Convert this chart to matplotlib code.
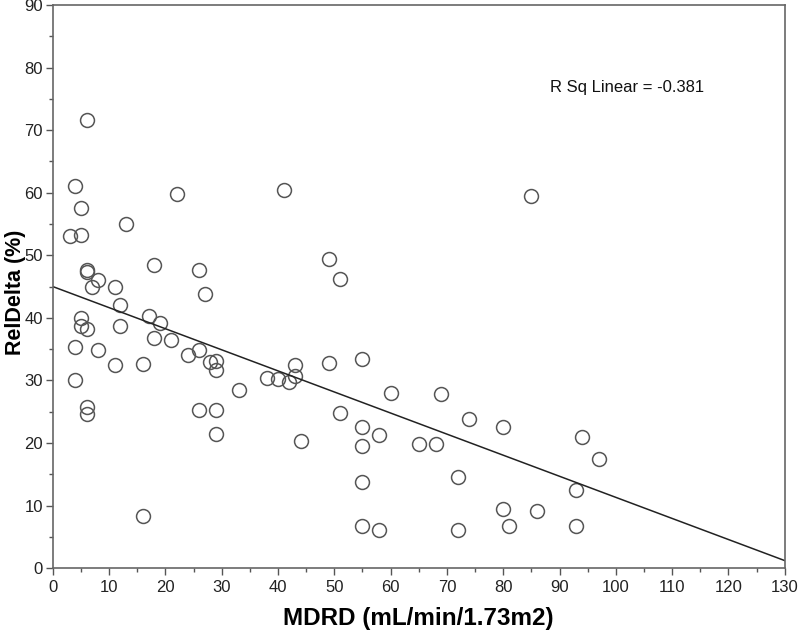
import matplotlib.pyplot as plt
import numpy as np

plt.rcParams['font.family'] = ['Liberation Sans', 'DejaVu Sans']

# MDRD (x) and RelDelta (y)
mdrd = [6, 4, 22, 41, 5, 13, 3, 5, 6, 6, 18, 26, 8, 7, 11, 27, 12, 5, 17, 19,
        5, 6, 12, 4, 8, 18, 21, 24, 26, 11, 16, 28, 29, 29, 4, 38, 40, 42, 43, 43,
        33, 6, 6, 26, 29, 29, 44, 16, 85, 49, 51, 49, 55, 60, 69, 51, 74, 80, 55, 58,
        55, 65, 68, 72, 55, 80, 86, 55, 58, 72, 81, 94, 97, 93, 93]
rel_delta = [71.7, 61.0, 59.8, 60.5, 57.5, 55.0, 53.1, 53.3, 47.6, 47.3, 48.5, 47.6, 46.0, 45.0, 45.0,
             43.8, 42.1, 40.0, 40.3, 39.2, 38.7, 38.2, 38.7, 35.3, 34.8, 36.7, 36.4, 34.1, 34.9, 32.4,
             32.7, 32.9, 33.1, 31.7, 30.0, 30.4, 30.2, 29.8, 32.4, 30.7, 28.5, 25.7, 24.6, 25.2, 25.2,
             21.5, 20.3, 8.4, 59.4, 49.4, 46.2, 32.8, 33.5, 28.0, 27.8, 24.8, 23.8, 22.5, 22.6, 21.2,
             19.5, 19.9, 19.9, 14.6, 13.8, 9.4, 9.2, 6.7, 6.1, 6.1, 6.7, 20.9, 17.4, 12.5, 6.7]

# fit line as drawn in the reference
fit_intercept = 45.0
fit_slope = -0.337
fit_x = [0, 130]
r_sq_label = 'R Sq Linear = -0.381'

fig = plt.figure(figsize=(8, 6.34), dpi=100)
ax = fig.add_axes([0.066, 0.104, 0.915, 0.888])

ax.plot(mdrd, rel_delta, linestyle='none', marker='o', ms=10,
        mfc='none', mec='#555555', mew=1.1)
fx = np.array(fit_x)
ax.plot(fx, fit_intercept + fit_slope * fx, color='#222222', lw=1.1)

ax.set_xlim(0, 130)
ax.set_ylim(0, 90)
ax.set_xticks(np.arange(0, 131, 10))
ax.set_xticks(np.arange(0, 131, 5), minor=True)
ax.set_yticks(np.arange(0, 91, 10))
ax.set_yticks(np.arange(0, 91, 5), minor=True)
ax.tick_params(which='major', length=5, width=1, color='#555555', labelsize=12, labelcolor='#222222')
ax.tick_params(which='minor', length=3, width=1, color='#555555')
ax.tick_params(axis='y', which='major', pad=2)
for s in ax.spines.values():
    s.set_color('#666666')
    s.set_linewidth(1.2)

ax.set_xlabel('MDRD (mL/min/1.73m2)', fontsize=17.5, fontweight='bold')
ax.set_ylabel('RelDelta (%)', fontsize=15.5, fontweight='bold')
ax.xaxis.set_label_coords(0.5, -0.069)
ax.yaxis.set_label_coords(-0.037, 0.49)

ax.text(88.3, 76.9, r_sq_label, fontsize=12, va='center', ha='left', color='#111111')

fig.savefig('out.png', dpi=100)
